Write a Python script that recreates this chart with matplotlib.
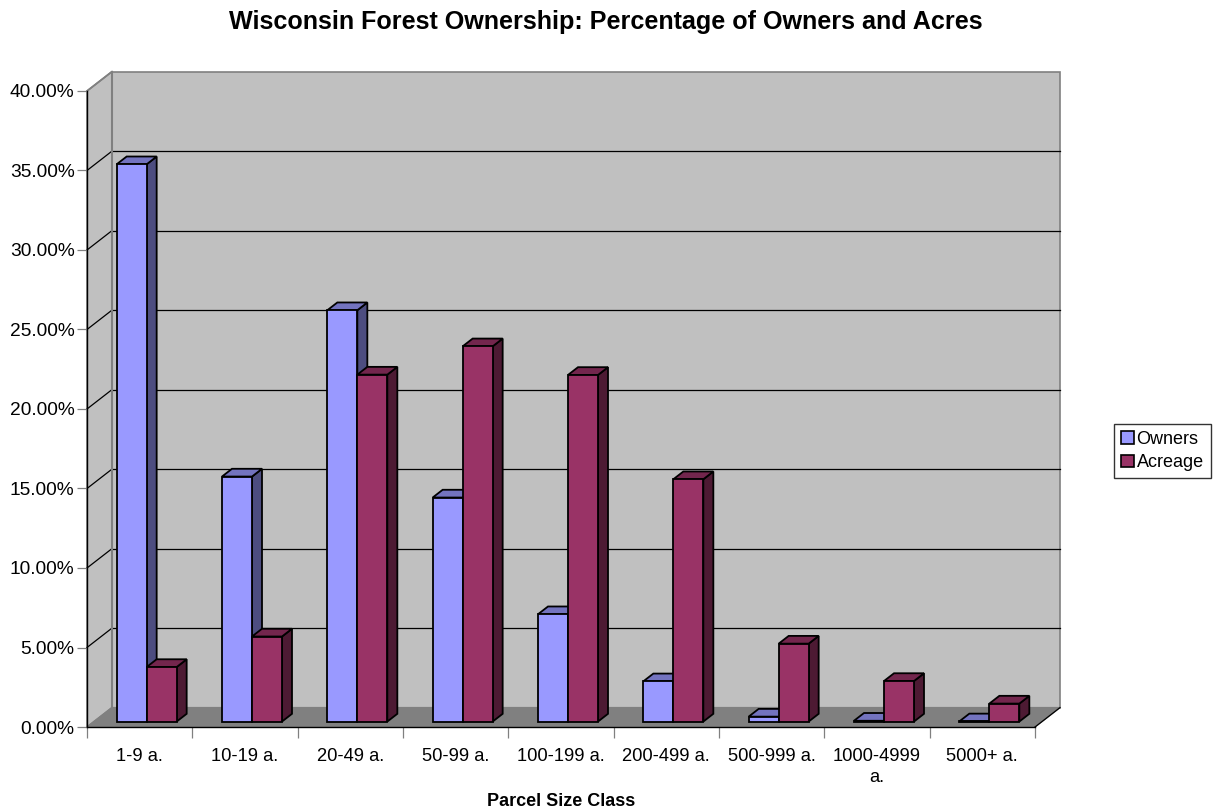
import matplotlib
matplotlib.use("Agg")
import matplotlib.pyplot as plt
from matplotlib.patches import Polygon, Patch
import numpy as np

plt.rcParams['font.family'] = ['Liberation Sans', 'DejaVu Sans']

categories = ["1-9 a.", "10-19 a.", "20-49 a.", "50-99 a.", "100-199 a.",
              "200-499 a.", "500-999 a.", "1000-4999\na.", "5000+ a."]
owners = [35.05, 15.41, 25.87, 14.09, 6.75, 2.53, 0.31, 0.05, 0.01]
acreage = [3.43, 5.35, 21.82, 23.60, 21.80, 15.24, 4.90, 2.55, 1.13]
series_names = ["Owners", "Acreage"]
yticks = [0, 5, 10, 15, 20, 25, 30, 35, 40]

title = "Wisconsin Forest Ownership: Percentage of Owners and Acres"
xlabel = "Parcel Size Class"

# face colours (front, top, side)
colors = {
    "Owners": ("#9999FF", "#7373BF", "#4D4D80"),
    "Acreage": ("#993366", "#73264D", "#4D1A33"),
}

W, H = 1214, 811
fig = plt.figure(figsize=(W / 100, H / 100), dpi=100)
ax = fig.add_axes([87 / W, (H - 727) / H, 948 / W, 636 / H])
n = len(categories)
ax.set_xlim(0, n)
ax.set_ylim(0, 40)

# oblique depth vector (data units)
DX = 25 / (948 / n)
DY = 19.4 / (636 / 40)

wall = "#C0C0C0"
floor = "#808080"
border = "#808080"

# back wall
ax.add_patch(Polygon([(DX, DY), (n + DX, DY), (n + DX, 40 + DY), (DX, 40 + DY)],
                     closed=True, facecolor=wall, edgecolor=border, lw=1.2,
                     clip_on=False, zorder=0.5))
# left wall
ax.add_patch(Polygon([(0, 0), (0, 40), (DX, 40 + DY), (DX, DY)], closed=True,
                     facecolor=wall, edgecolor=border, lw=1.2, clip_on=False, zorder=0.5))
# floor
ax.add_patch(Polygon([(0, 0), (n, 0), (n + DX, DY), (DX, DY)], closed=True,
                     facecolor=floor, edgecolor=floor, lw=1, clip_on=False, zorder=0.6))
ax.plot([n, n + DX], [0, DY], color="black", lw=0.9, clip_on=False, zorder=0.7)

# gridlines
for v in yticks[1:-1]:
    ax.plot([DX, n + DX], [v + DY, v + DY], color="black", lw=0.9, clip_on=False, zorder=0.8)
    ax.plot([0, DX], [v, v + DY], color="black", lw=0.9, clip_on=False, zorder=0.8)
ax.plot([DX, DX], [DY, 40 + DY], color=border, lw=1.5, clip_on=False, zorder=0.8)
ax.plot([0, DX], [40, 40 + DY], color=border, lw=1.2, clip_on=False, zorder=0.8)

# bars
bw = 30 / (948 / n)
d0, d1 = 0.28, 0.68
z = 2
for i in range(n):
    for k, (name, vals) in enumerate(zip(series_names, [owners, acreage])):
        v = vals[i]
        fc, tc, sc = colors[name]
        left = i + 0.5 - bw + k * bw
        x0 = left + d0 * DX
        y0 = d0 * DY
        ox = (d1 - d0) * DX
        oy = (d1 - d0) * DY
        front = [(x0, y0), (x0 + bw, y0), (x0 + bw, y0 + v), (x0, y0 + v)]
        top = [(x0, y0 + v), (x0 + bw, y0 + v), (x0 + bw + ox, y0 + v + oy), (x0 + ox, y0 + v + oy)]
        side = [(x0 + bw, y0), (x0 + bw + ox, y0 + oy), (x0 + bw + ox, y0 + v + oy), (x0 + bw, y0 + v)]
        for poly, c in ((side, sc), (top, tc), (front, fc)):
            ax.add_patch(Polygon(poly, closed=True, facecolor=c, edgecolor="black",
                                 lw=1.3, joinstyle="miter", clip_on=False, zorder=z))
        z += 0.01

# axes styling
for s in ("top", "right"):
    ax.spines[s].set_visible(False)
ax.spines["left"].set_color("black")
ax.spines["bottom"].set_color("black")
ax.spines["left"].set_linewidth(1.0)
ax.spines["bottom"].set_linewidth(1.0)
ax.spines["left"].set_zorder(5)
ax.spines["bottom"].set_zorder(5)

ax.set_yticks(yticks)
ax.set_yticklabels([f"{v:.2f}%" for v in yticks])
ax.tick_params(axis="y", direction="out", length=7, width=0.9, color="#808080",
               labelsize=13.8, pad=2)

ax.set_xticks(np.arange(n + 1))
ax.set_xticklabels([])
ax.tick_params(axis="x", which="major", direction="out", length=8, width=0.9, color="#808080")
ax.set_xticks(np.arange(n) + 0.5, minor=True)
ax.set_xticklabels(categories, minor=True, fontsize=13.2, linespacing=1.35)
ax.tick_params(axis="x", which="minor", length=0, pad=15)

fig.text(561 / W, 1 - 802 / H, xlabel, ha="center", va="center",
         fontsize=13, fontweight="bold")
fig.text(606 / W, 1 - 22 / H, title, ha="center", va="center",
         fontsize=18.1, fontweight="bold")

handles = [Patch(facecolor=colors[s][0], edgecolor="black", lw=1.2) for s in series_names]
leg = fig.legend(handles, series_names, loc="center left",
                 bbox_to_anchor=(1114 / W, 1 - 451 / H), fontsize=13,
                 frameon=True, fancybox=False, handlelength=0.7, handleheight=0.7,
                 handletextpad=0.15, borderpad=0.4, labelspacing=0.35, borderaxespad=0)
leg.get_frame().set_edgecolor("black")
leg.get_frame().set_linewidth(1.0)

fig.savefig("out.png", dpi=100, facecolor="white")
